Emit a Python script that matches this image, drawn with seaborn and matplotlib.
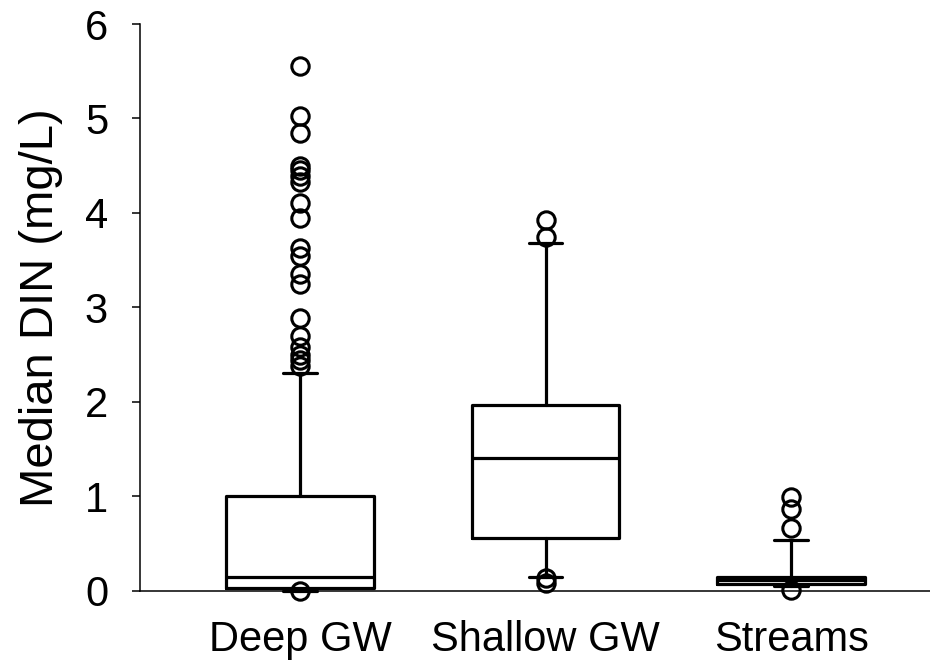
import matplotlib
matplotlib.use("Agg")
import matplotlib.pyplot as plt
import seaborn as sns

# Box-plot summaries of median dissolved inorganic nitrogen per site group
groups = ["Deep GW", "Shallow GW", "Streams"]
q1 = [0.03, 0.56, 0.07]
medians = [0.15, 1.41, 0.11]
q3 = [1.00, 1.965, 0.148]
whisker_low = [0.0, 0.148, 0.05]
whisker_high = [2.30, 3.68, 0.533]
outliers_deep = [0.0, 2.38, 2.44, 2.50, 2.58, 2.70, 2.89, 3.25, 3.35, 3.54,
                 3.63, 3.95, 4.11, 4.33, 4.39, 4.45, 4.50, 4.85, 5.03, 5.56]
outliers_shallow = [0.08, 0.13, 3.75, 3.92]
outliers_streams = [0.01, 0.66, 0.86, 0.99]
yticks = [0, 1, 2, 3, 4, 5, 6]

sns.set_style("ticks")
plt.rcParams["font.family"] = ["Liberation Sans", "DejaVu Sans"]

stats = []
for name, lo, a, m, b, hi, fl in zip(groups, whisker_low, q1, medians, q3, whisker_high,
                                     [outliers_deep, outliers_shallow, outliers_streams]):
    stats.append(dict(label=name, whislo=lo, q1=a, med=m, q3=b, whishi=hi, fliers=fl))

fig = plt.figure(figsize=(9.30, 6.61), dpi=100)
ax = fig.add_axes([140 / 930, 70.3 / 661, 790 / 930, 566.7 / 661])

lw = 2.3
parts = ax.bxp(
    stats,
    positions=range(len(groups)),
    widths=0.6,
    capwidths=0.135,
    patch_artist=False,
    boxprops=dict(color="black", linewidth=lw),
    medianprops=dict(color="black", linewidth=lw),
    whiskerprops=dict(color="black", linewidth=lw),
    capprops=dict(color="black", linewidth=lw),
    flierprops=dict(marker="o", markersize=12.5, markerfacecolor="none",
                    markeredgecolor="black", markeredgewidth=2.2, linestyle="none"),
    manage_ticks=False,
)
# let the low outliers and caps spill below the baseline
for artists in parts.values():
    for artist in artists:
        artist.set_clip_on(False)

ax.set_xlim(-0.652, 2.566)
ax.set_ylim(0, 6)
ax.set_yticks(yticks)
ax.set_xticks(range(len(groups)))
ax.set_xticklabels(groups)

for side in ("top", "right"):
    ax.spines[side].set_visible(False)
for side in ("left", "bottom"):
    ax.spines[side].set_linewidth(1.1)
    ax.spines[side].set_color("black")

ax.tick_params(axis="y", length=6, width=1.1, pad=17, labelsize=30, colors="black")
ax.tick_params(axis="x", length=0, pad=21, labelsize=30, colors="black")

ax.set_ylabel("Median DIN (mg/L)", fontsize=34, color="black")
ax.yaxis.set_label_coords(-0.097, 0.5)

fig.savefig("out.png", dpi=100, facecolor="white")
